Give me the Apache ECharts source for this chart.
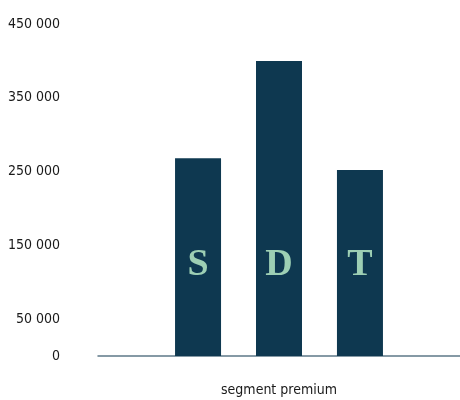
<!DOCTYPE html>
<html lang="en">

<head>
    <meta charset="UTF-8">
    <title>segment premium</title>
</head>

<body style="margin: 0">

    <div id="chart" style="width: 460px; height: 400px"></div>

    <script src="https://cdn.jsdelivr.net/npm/echarts@6/dist/echarts.min.js"></script>
    <script>
        // data
        const categories = ['segment premium']
        const seriesNames = ['S', 'D', 'T']
        const seriesValues = [268000, 400000, 252000]
        const yTicks = [0, 50000, 150000, 250000, 350000, 450000]

        const labelFont = "'Liberation Sans Narrow', 'DejaVu Sans Condensed', sans-serif"

        const myChart = echarts.init(document.getElementById('chart'))

        const series = seriesNames.map(function (name, i) {
            return {
                name: name,
                type: 'bar',
                data: [seriesValues[i]],
                barWidth: 46,
                barGap: '76%',
                itemStyle: { color: '#0e3850' },
                label: {
                    show: true,
                    position: 'insideBottom',
                    distance: 72,
                    formatter: name,
                    color: '#9dcfb4',
                    fontFamily: "'Liberation Serif', 'DejaVu Serif', serif",
                    fontWeight: 'bold',
                    fontSize: 38
                }
            }
        })

        const option = {
            animation: false,
            grid: {
                left: 98,
                right: 0,
                top: 24,
                bottom: 44
            },
            xAxis: {
                type: 'category',
                data: categories,
                axisLine: { lineStyle: { color: '#5d7888', width: 1.5 } },
                axisTick: { show: false },
                axisLabel: {
                    margin: 27,
                    color: '#1a1a1a',
                    fontFamily: labelFont,
                    fontSize: 14
                }
            },
            yAxis: {
                type: 'value',
                min: 0,
                max: 450000,
                interval: 50000,
                splitLine: { show: false },
                axisLine: { show: false },
                axisTick: { show: false },
                axisLabel: {
                    margin: 38,
                    color: '#1a1a1a',
                    fontFamily: labelFont,
                    fontSize: 14,
                    customValues: yTicks,
                    formatter: function (v) {
                        // space as thousands separator
                        return String(v).replace(/\B(?=(\d{3})+(?!\d))/g, ' ')
                    }
                }
            },
            series: series
        }

        myChart.setOption(option)
    </script>
</body>

</html>
